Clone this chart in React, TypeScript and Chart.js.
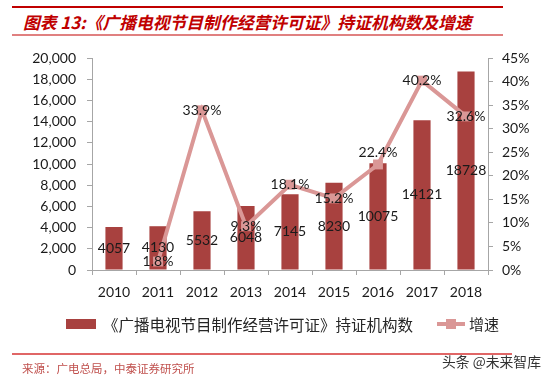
import React, { useEffect, useRef } from 'react';
import { Chart, registerables } from 'chart.js';

Chart.register(...registerables);

const years = ['2010', '2011', '2012', '2013', '2014', '2015', '2016', '2017', '2018'];
const institutions = [4057, 4130, 5532, 6048, 7145, 8230, 10075, 14121, 18728];
const growth = [null, 1.8, 33.9, 9.3, 18.1, 15.2, 22.4, 40.2, 32.6];
const leftMax = 20000;
const leftStep = 2000;
const rightMax = 45;
const rightStep = 5;

const barLabel = '《广播电视节目制作经营许可证》持证机构数';
const lineLabel = '增速';
const titleText = '图表 13:《广播电视节目制作经营许可证》持证机构数及增速';
const sourceText = '来源：广电总局，中泰证券研究所';
const watermarkText = '头条 @未来智库';

const BAR_COLOR = '#A8413F';
const LINE_COLOR = '#DA9796';
const AXIS_COLOR = '#A6A6A6';
const NUM_FONT = 'Lato, "Open Sans", sans-serif';
const CJK_FONT = '"Noto Sans CJK SC", "Noto Sans", sans-serif';

const labelPlugin = {
  id: 'valueLabels',
  afterDatasetsDraw(chart: any) {
    const ctx = chart.ctx;
    ctx.save();
    ctx.font = `14px ${NUM_FONT}`;
    ctx.fillStyle = '#1a1a1a';
    ctx.textAlign = 'center';
    ctx.textBaseline = 'middle';
    const barMeta = chart.getDatasetMeta(1);
    barMeta.data.forEach((el: any, i: number) => {
      const cy = (el.y + el.base) / 2;
      ctx.fillText(String(institutions[i]), el.x, cy);
    });
    const lineMeta = chart.getDatasetMeta(0);
    lineMeta.data.forEach((el: any, i: number) => {
      const v = growth[i];
      if (v == null) return;
      const shift = i === 6 ? -12 : 0;
      ctx.fillText(v.toFixed(1) + '%', el.x, el.y + shift);
    });
    ctx.restore();
  },
};

export default function App() {
  const ref = useRef<HTMLCanvasElement | null>(null);

  useEffect(() => {
    if (!ref.current) return;
    const chart = new Chart(ref.current, {
      type: 'bar',
      data: {
        labels: years,
        datasets: [
          {
            type: 'line',
            label: lineLabel,
            data: growth as any,
            yAxisID: 'y1',
            borderColor: LINE_COLOR,
            backgroundColor: LINE_COLOR,
            borderWidth: 4,
            pointStyle: 'rect',
            pointRadius: 7,
            pointBorderWidth: 0,
            pointBackgroundColor: LINE_COLOR,
            tension: 0,
            spanGaps: false,
            order: 0,
          } as any,
          {
            type: 'bar',
            label: barLabel,
            data: institutions,
            yAxisID: 'y',
            backgroundColor: BAR_COLOR,
            borderWidth: 0,
            barPercentage: 0.39,
            categoryPercentage: 1,
            order: 1,
          },
        ],
      },
      options: {
        animation: false,
        responsive: false,
        maintainAspectRatio: false,
        layout: { padding: { top: 58, bottom: 82, left: 0, right: 0 } },
        plugins: {
          legend: { display: false },
          tooltip: { enabled: false },
          title: { display: false },
        },
        scales: {
          x: {
            grid: { drawOnChartArea: false, color: AXIS_COLOR, tickLength: 5, offset: true },
            border: { color: AXIS_COLOR, width: 1 },
            ticks: { color: '#1a1a1a', font: { family: NUM_FONT, size: 14 }, padding: 9, maxRotation: 0 },
            afterFit: (s: any) => { s.height = 30; },
          },
          y: {
            position: 'left',
            min: 0,
            max: leftMax,
            grid: { drawOnChartArea: false, color: AXIS_COLOR, tickLength: 5 },
            border: { color: AXIS_COLOR, width: 1 },
            ticks: {
              stepSize: leftStep,
              color: '#1a1a1a',
              font: { family: NUM_FONT, size: 14 },
              padding: 11,
              callback: (v: any) => Number(v).toLocaleString('en-US'),
            },
            afterFit: (s: any) => { s.width = 92; },
          },
          y1: {
            position: 'right',
            min: 0,
            max: rightMax,
            grid: { drawOnChartArea: false, color: AXIS_COLOR, tickLength: 5 },
            border: { color: AXIS_COLOR, width: 1 },
            ticks: {
              stepSize: rightStep,
              color: '#1a1a1a',
              font: { family: NUM_FONT, size: 14 },
              padding: 9,
              callback: (v: any) => `${v}%`,
            },
            afterFit: (s: any) => { s.width = 66; },
          },
        },
      },
      plugins: [labelPlugin],
    });
    return () => chart.destroy();
  }, []);

  const abs = (style: React.CSSProperties): React.CSSProperties => ({ position: 'absolute', ...style });

  return (
    <div style={{ position: 'absolute', left: 0, top: 0, width: 554, height: 382, background: '#fff', overflow: 'hidden' }}>
      <div style={abs({ left: 12, top: 6, width: 491, height: 2, background: '#C00000' })} />
      <div
        style={abs({
          left: 23, top: 11, height: 22, lineHeight: '22px', whiteSpace: 'nowrap',
          fontFamily: CJK_FONT, fontWeight: 700, fontStyle: 'italic', fontSize: 16.8, color: '#C00000',
        })}
      >
        {titleText}
      </div>
      <div style={abs({ left: 12, top: 34, width: 491, height: 1.5, background: '#E08080' })} />

      <canvas ref={ref} width={554} height={382} style={abs({ left: 0, top: 0, width: 554, height: 382 })} />

      <div style={abs({ left: 66, top: 319, width: 30, height: 10, background: BAR_COLOR })} />
      <div
        style={abs({
          left: 103, top: 314, height: 20, lineHeight: '20px', whiteSpace: 'nowrap',
          fontFamily: CJK_FONT, fontSize: 15.5, color: '#262626',
        })}
      >
        {barLabel}
      </div>
      <div style={abs({ left: 437, top: 322, width: 28, height: 4, background: LINE_COLOR })} />
      <div style={abs({ left: 446, top: 319, width: 10, height: 10, background: LINE_COLOR })} />
      <div
        style={abs({
          left: 469, top: 314, height: 20, lineHeight: '20px', whiteSpace: 'nowrap',
          fontFamily: CJK_FONT, fontSize: 15, color: '#262626',
        })}
      >
        {lineLabel}
      </div>

      <div style={abs({ left: 12, top: 353, width: 500, height: 1.5, background: '#E06666' })} />
      <div
        style={abs({
          left: 22, top: 358, height: 20, lineHeight: '20px', whiteSpace: 'nowrap',
          fontFamily: CJK_FONT, fontSize: 11.5, color: '#C0504D',
        })}
      >
        {sourceText}
      </div>
      <div
        style={abs({
          left: 442, top: 351, height: 20, lineHeight: '20px', whiteSpace: 'nowrap',
          fontFamily: CJK_FONT, fontSize: 13.8, color: '#333',
        })}
      >
        {watermarkText}
      </div>
    </div>
  );
}
